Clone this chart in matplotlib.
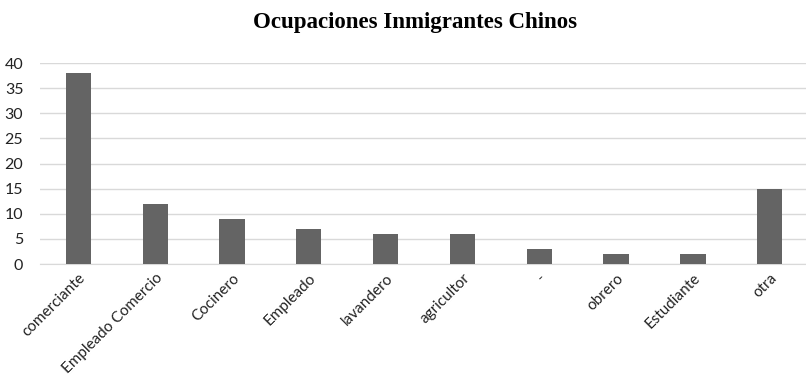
import numpy as np
import matplotlib.pyplot as plt

categorias = ['comerciante', 'Empleado Comercio', 'Cocinero', 'Empleado', 'lavandero',
              'agricultor', '-', 'obrero', 'Estudiante', 'otra']
valores = [38, 12, 9, 7, 6, 6, 3, 2, 2, 15]
yticks = [0, 5, 10, 15, 20, 25, 30, 35, 40]

plt.rcParams['font.family'] = ['Lato', 'DejaVu Sans']

fig = plt.figure(figsize=(8.06, 3.8), dpi=100)
ax = fig.add_axes([0.0496, 0.305, 0.953, 0.529])

x = np.arange(len(categorias))
ax.bar(x, valores, width=0.33, color='#646464', zorder=3)

ax.set_xlim(-0.5, len(categorias) - 0.5)
ax.set_ylim(0, 40)
ax.set_yticks(yticks)
ax.set_yticklabels([str(v) for v in yticks], fontsize=11.5, color='#222222')
ax.set_xticks(x)
ax.set_xticklabels(categorias, rotation=45, ha='right', rotation_mode='anchor',
                   fontsize=11, color='#222222')
ax.tick_params(axis='both', length=0)
ax.tick_params(axis='y', pad=12)
ax.tick_params(axis='x', pad=5)

ax.grid(axis='y', color='#d9d9d9', linewidth=1, zorder=0)
for s in ['top', 'right', 'left']:
    ax.spines[s].set_visible(False)
ax.spines['bottom'].set_color('#d9d9d9')

fig.text(0.515, 0.94, 'Ocupaciones Inmigrantes Chinos', ha='center', va='center',
         fontsize=16.5, fontweight='bold', family='Liberation Serif')

fig.savefig('out.png', dpi=100)
